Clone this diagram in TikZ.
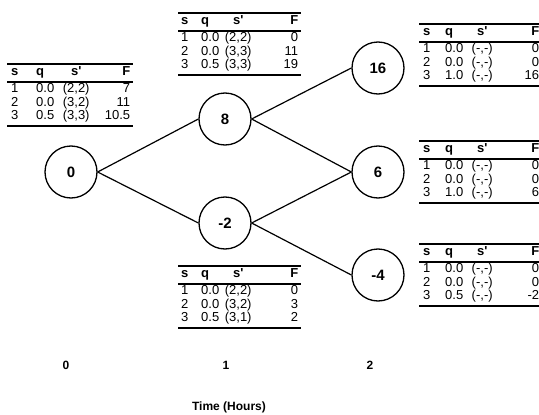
\documentclass[tikz,border=0pt]{standalone}
\usepackage{fontspec}
\setmainfont{Liberation Sans}
\usepackage{array}
\usepackage{booktabs}
\setlength\tabcolsep{0pt}
\setlength\heavyrulewidth{2pt}
\setlength\lightrulewidth{1.8pt}
\setlength\aboverulesep{1pt}
\setlength\belowrulesep{1pt}
\newcommand\sprime{\textbf{s\textquotesingle}}
\newcommand\hdr[1]{\textbf{s} & \textbf{q} & \sprime & \textbf{F}\hspace{#1}\\}
\tikzset{
  state/.style={circle, draw, line width=1.3pt, minimum size=52pt, inner sep=0pt,
    font=\fontsize{15}{15}\selectfont\bfseries},
  edge/.style={line width=1.2pt},
  tbl/.style={anchor=north west, inner sep=0pt, font=\fontsize{13}{13.5}\selectfont},
  axislabel/.style={font=\fontsize{12}{12}\selectfont\bfseries},
}
\begin{document}
\begin{tikzpicture}[x=1pt, y=-1pt]
\useasboundingbox (0,0) rectangle (539,415);

% states
\node[state] (n0)  at (71,172)  {0};
\node[state] (n8)  at (225,119) {8};
\node[state] (nm2) at (225,223) {-2};
\node[state] (n16) at (378,68)  {16};
\node[state] (n6)  at (378,172) {6};
\node[state] (nm4) at (378,275) {-4};

% connectors
\draw[edge] (n0.east) -- (n8.west);
\draw[edge] (n0.east) -- (nm2.west);
\draw[edge] (n8.east) -- (n16.west);
\draw[edge] (n8.east) -- (n6.west);
\draw[edge] (nm2.east) -- (n6.west);
\draw[edge] (nm2.east) -- (nm4.west);

% tables
\node[tbl] (tL) at (7,63) {\begin{tabular}{@{\hspace{4pt}}w{l}{25pt}w{l}{24pt}w{c}{32pt}w{r}{38pt}@{\hspace{3pt}}}
\toprule \hdr{12pt} \midrule
1 & 0.0 & (2,2) & 7\\
2 & 0.0 & (3,2) & 11\\
3 & 0.5 & (3,3) & 10.5\\
\bottomrule
\end{tabular}};

\node[tbl] (tT) at (178,12) {\begin{tabular}{@{\hspace{3pt}}w{l}{20pt}w{l}{22pt}w{c}{30pt}w{r}{45pt}@{\hspace{3pt}}}
\toprule \hdr{10pt} \midrule
1 & 0.0 & (2,2) & 0\\
2 & 0.0 & (3,3) & 11\\
3 & 0.5 & (3,3) & 19\\
\bottomrule
\end{tabular}};

\node[tbl] (tB) at (178,265) {\begin{tabular}{@{\hspace{3pt}}w{l}{20pt}w{l}{22pt}w{c}{30pt}w{r}{45pt}@{\hspace{3pt}}}
\toprule \hdr{10pt} \midrule
1 & 0.0 & (2,2) & 0\\
2 & 0.0 & (3,2) & 3\\
3 & 0.5 & (3,1) & 2\\
\bottomrule
\end{tabular}};

\node[tbl] (tR1) at (419,23) {\begin{tabular}{@{\hspace{4pt}}w{l}{22pt}w{l}{24pt}w{c}{26pt}w{r}{44pt}@{}}
\toprule \hdr{11pt} \midrule
1 & 0.0 & (-,-) & 0\\
2 & 0.0 & (-,-) & 0\\
3 & 1.0 & (-,-) & 16\\
\bottomrule
\end{tabular}};

\node[tbl] (tR2) at (419,140) {\begin{tabular}{@{\hspace{4pt}}w{l}{22pt}w{l}{24pt}w{c}{26pt}w{r}{44pt}@{}}
\toprule \hdr{11pt} \midrule
1 & 0.0 & (-,-) & 0\\
2 & 0.0 & (-,-) & 0\\
3 & 1.0 & (-,-) & 6\\
\bottomrule
\end{tabular}};

\node[tbl] (tR3) at (419,243) {\begin{tabular}{@{\hspace{4pt}}w{l}{22pt}w{l}{24pt}w{c}{26pt}w{r}{44pt}@{}}
\toprule \hdr{11pt} \midrule
1 & 0.0 & (-,-) & 0\\
2 & 0.0 & (-,-) & 0\\
3 & 0.5 & (-,-) & -2\\
\bottomrule
\end{tabular}};

% axis labels
\node[axislabel] (a0) at (66,365) {0};
\node[axislabel] (a1) at (226,365) {1};
\node[axislabel] (a2) at (370,365) {2};
\node[axislabel] (at) at (229,407) {Time (Hours)};
\end{tikzpicture}
\end{document}
